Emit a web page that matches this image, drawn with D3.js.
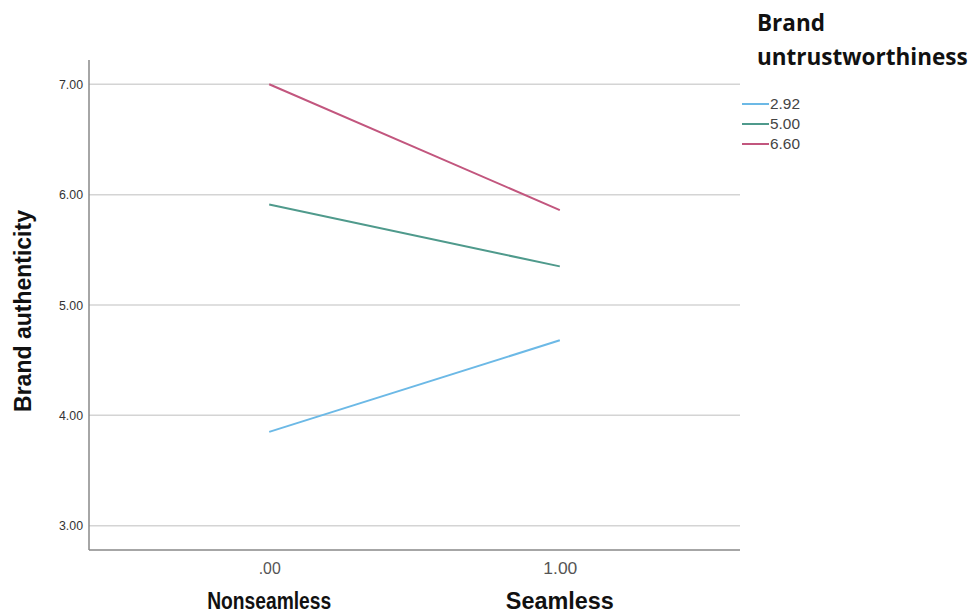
<!DOCTYPE html>
<html><head><meta charset="utf-8">
<script src="https://cdn.jsdelivr.net/npm/d3@7"></script>
<style>body{margin:0;background:#fff}</style>
</head><body><svg id="c" width="971" height="614"></svg>
<script>
const xValues = [0, 1];
const xTickLabels = [".00", "1.00"];
const xCategoryNames = ["Nonseamless", "Seamless"];
const yTicks = [3, 4, 5, 6, 7];
const seriesNames = ["2.92", "5.00", "6.60"];
const series292 = [3.85, 4.68];
const series500 = [5.91, 5.35];
const series660 = [7.00, 5.86];
const colors = ["#6cb9e6", "#4f9a8c", "#c2567e"];
const allSeries = [series292, series500, series660];

(function () {
const svg = d3.select("#c");
const sans = "Liberation Sans, Arial, sans-serif";
const pLeft = 89, pRight = 740, pTop = 60, pBottom = 550;
const x = d3.scaleLinear().domain([-0.62, 1.62]).range([pLeft, pRight]);
const y = d3.scaleLinear().domain([2.78, 7.22]).range([pBottom, pTop]);

svg.append("g").selectAll("line").data(yTicks).join("line")
  .attr("x1", pLeft).attr("x2", pRight)
  .attr("y1", d => y(d)).attr("y2", d => y(d))
  .attr("stroke", "#d4d4d4").attr("stroke-width", 1.5);

const ya = svg.append("g").attr("transform", `translate(${pLeft},0)`)
  .call(d3.axisLeft(y).tickValues(yTicks).tickFormat(d3.format(".2f")).tickSize(0).tickPadding(6));
ya.select(".domain").remove();
ya.selectAll("text").attr("font-family", sans).attr("font-size", 12.5).attr("fill", "#333")
  .attr("textLength", 24).attr("lengthAdjust", "spacingAndGlyphs");
svg.append("line").attr("x1", pLeft).attr("x2", pLeft).attr("y1", pTop).attr("y2", pBottom)
  .attr("stroke", "#888").attr("stroke-width", 1.5);

const xa = svg.append("g").attr("transform", `translate(0,${pBottom})`)
  .call(d3.axisBottom(x).tickValues(xValues).tickFormat((d, i) => xTickLabels[i]).tickSize(0).tickPadding(12));
xa.select(".domain").remove();
xa.selectAll("text").attr("font-family", sans).attr("font-size", 17).attr("fill", "#555")
  .attr("textLength", (d, i) => [22, 34][i]).attr("lengthAdjust", "spacingAndGlyphs");
svg.append("line").attr("x1", pLeft).attr("x2", pRight).attr("y1", pBottom).attr("y2", pBottom)
  .attr("stroke", "#888").attr("stroke-width", 1.5);

svg.append("g").selectAll("text").data(xCategoryNames).join("text")
  .attr("x", (d, i) => x(xValues[i])).attr("y", 609)
  .attr("text-anchor", "middle").attr("font-family", sans)
  .attr("font-weight", "bold").attr("font-size", 23).attr("fill", "#111")
  .attr("textLength", (d, i) => [124, 108][i]).attr("lengthAdjust", "spacingAndGlyphs")
  .text(d => d);

svg.append("text").attr("transform", "translate(31,311) rotate(-90)")
  .attr("text-anchor", "middle").attr("font-family", sans)
  .attr("font-weight", "bold").attr("font-size", 23).attr("fill", "#111").text("Brand authenticity");

const line = d3.line().x((d, i) => x(xValues[i])).y(d => y(d));
svg.append("g").selectAll("path").data(allSeries).join("path")
  .attr("d", d => line(d)).attr("fill", "none")
  .attr("stroke", (d, i) => colors[i]).attr("stroke-width", 2);

svg.append("text").attr("x", 757).attr("y", 31).attr("font-family", "Open Sans, Liberation Sans, sans-serif")
  .attr("font-weight", "bold").attr("font-size", 22.5).attr("fill", "#111").text("Brand");
svg.append("text").attr("x", 757).attr("y", 65).attr("font-family", "Open Sans, Liberation Sans, sans-serif")
  .attr("font-weight", "bold").attr("font-size", 22.5).attr("fill", "#111").text("untrustworthiness");
const lg = svg.append("g").selectAll("g").data(seriesNames).join("g")
  .attr("transform", (d, i) => `translate(742,${104 + i * 20})`);
lg.append("line").attr("x1", 0).attr("x2", 27).attr("stroke", (d, i) => colors[i]).attr("stroke-width", 2);
lg.append("text").attr("x", 28).attr("y", 5).attr("font-family", sans)
  .attr("font-size", 15).attr("fill", "#444")
  .attr("textLength", 30).attr("lengthAdjust", "spacingAndGlyphs").text(d => d);
})();
</script></body></html>
